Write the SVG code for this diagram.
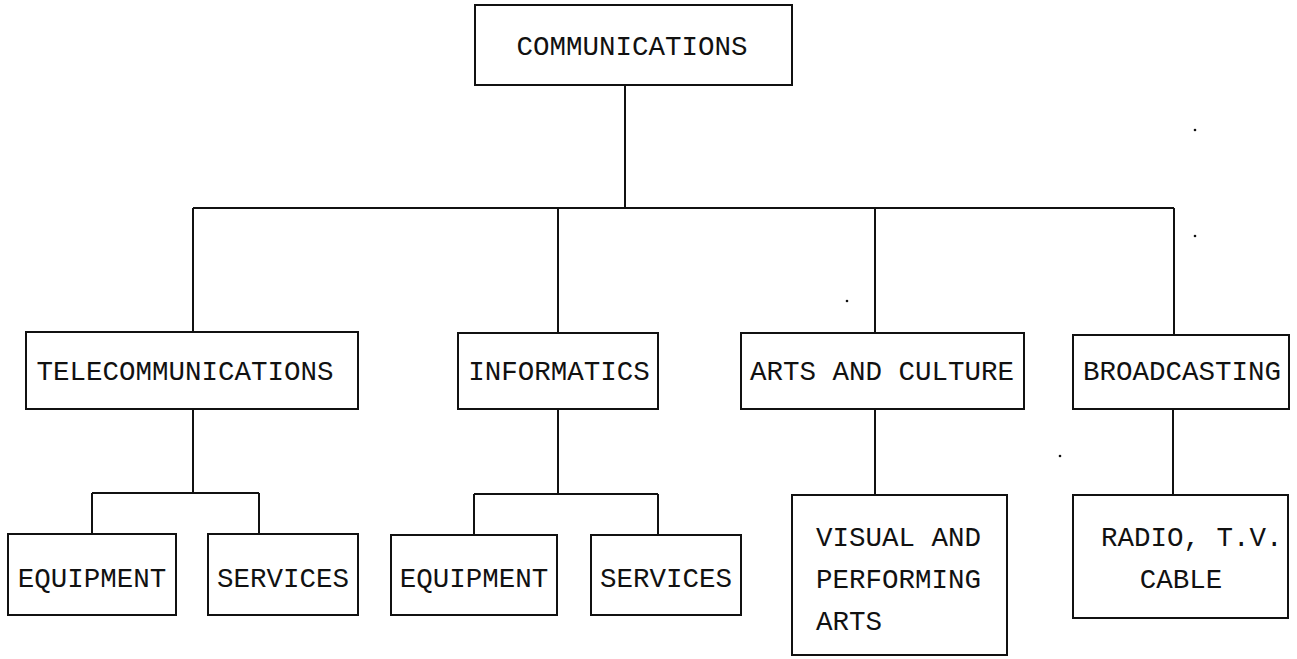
<svg xmlns="http://www.w3.org/2000/svg" width="1297" height="659" viewBox="0 0 1297 659">
<style>
.box{fill:#fff;stroke:#111;stroke-width:2}
.ln{fill:none;stroke:#111;stroke-width:2}
.t{font-family:"Liberation Mono","Courier New",monospace;font-size:27.5px;fill:#111}
.c{text-anchor:middle}
</style>
<rect width="1297" height="659" fill="#fff"/>
<g id="connectors">
<path class="ln" d="M625 85V208M193 208H1174M193 208V332M558 208V333M875 208V333M1174 208V335"/>
<path class="ln" d="M193 409V493M92 493H259M92 493V534M259 493V534"/>
<path class="ln" d="M558 409V494M474 494H658M474 494V535M658 494V535"/>
<path class="ln" d="M875 409V495M1173 409V495"/>
</g>
<g id="communications"><rect class="box" x="475" y="5" width="317" height="80"/><text class="t c" x="632" y="55">COMMUNICATIONS</text></g>
<g id="telecommunications"><rect class="box" x="26" y="332" width="332" height="77"/><text class="t c" x="185" y="380">TELECOMMUNICATIONS</text></g>
<g id="informatics"><rect class="box" x="458" y="333" width="200" height="76"/><text class="t c" x="559" y="380">INFORMATICS</text></g>
<g id="arts"><rect class="box" x="741" y="333" width="283" height="76"/><text class="t c" x="882" y="380">ARTS AND CULTURE</text></g>
<g id="broadcasting"><rect class="box" x="1073" y="335" width="216" height="74"/><text class="t c" x="1182" y="380">BROADCASTING</text></g>
<g id="equipment1"><rect class="box" x="8" y="534" width="168" height="81"/><text class="t c" x="92" y="587">EQUIPMENT</text></g>
<g id="services1"><rect class="box" x="208" y="534" width="150" height="81"/><text class="t c" x="283" y="587">SERVICES</text></g>
<g id="equipment2"><rect class="box" x="391" y="535" width="166" height="80"/><text class="t c" x="474" y="587">EQUIPMENT</text></g>
<g id="services2"><rect class="box" x="591" y="535" width="150" height="80"/><text class="t c" x="666" y="587">SERVICES</text></g>
<g id="visual"><rect class="box" x="792" y="495" width="215" height="160"/><text class="t" x="816" y="546">VISUAL AND</text><text class="t" x="816" y="588">PERFORMING</text><text class="t" x="816" y="630">ARTS</text></g>
<g id="radio"><rect class="box" x="1073" y="495" width="215" height="123"/><text class="t" x="1101" y="546">RADIO, T.V.</text><text class="t c" x="1181" y="588">CABLE</text></g>
<g id="specks" fill="#111"><circle cx="1195" cy="130" r="1.3"/><circle cx="1195" cy="236" r="1.3"/><circle cx="847" cy="301" r="1.3"/><circle cx="1060" cy="456" r="1.3"/></g>
</svg>
